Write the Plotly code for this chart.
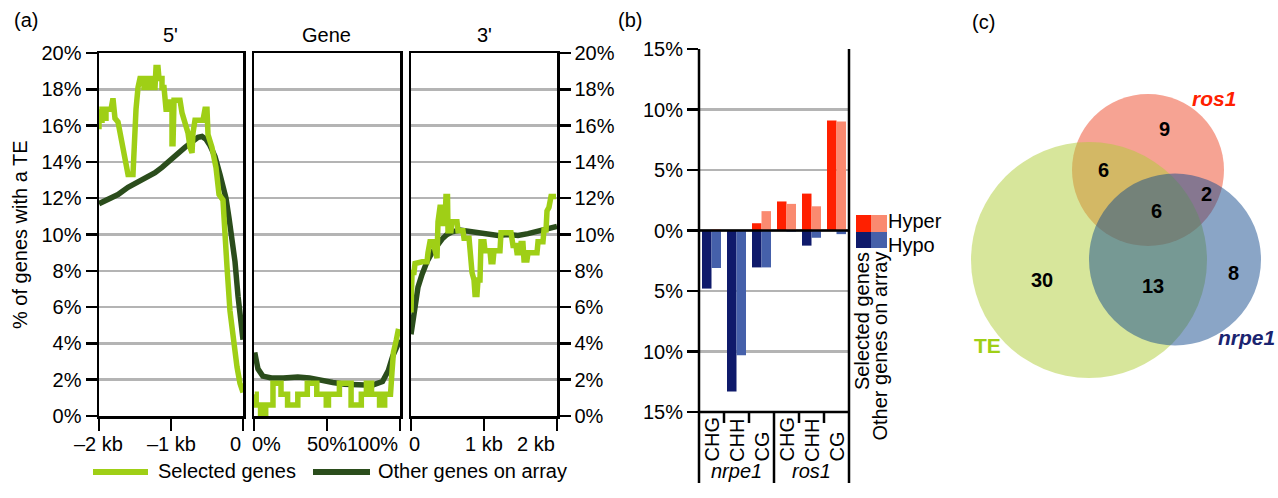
import plotly.graph_objects as go

W, H = 1278, 498
def px(x): return x / W
def py(y): return 1 - y / H

FONT = "Liberation Sans, Arial, sans-serif"
GREEN = "#9fcf16"
DARK = "#2b4d1c"
GRID = "#b4b4b4"

# ---------------- Panel (a) data ----------------
# 5' flank (bp upstream of gene), % of genes with a TE
five_sel_x = [-2000, -2000, -1986, -1958, -1958, -1931, -1931, -1903, -1903, -1875, -1875, -1833, -1806, -1778,
              -1736, -1694, -1653, -1611, -1597, -1528, -1514, -1486, -1458, -1431, -1375, -1375, -1319, -1319,
              -1264, -1264, -1222, -1222, -1208, -1180, -1167, -1125, -1125, -1097, -1069, -1042, -1028, -986,
              -986, -972, -958, -875, -847, -806, -764, -736, -708, -694, -667, -597, -556, -528, -500, -486,
              -431, -375, -333, -278, -250, -222, -181, -139, -111, -83, -42, -14, 0]
five_sel_y = [15.8, 16.9, 16.3, 16.3, 16.9, 16.9, 16.4, 16.4, 16.9, 16.9, 16.9, 16.9, 17.5, 16.4,
              16.2, 15.3, 14.4, 13.7, 13.3, 13.3, 15.0, 16.9, 18.1, 18.6, 18.6, 18.1, 18.1, 18.6,
              18.6, 18.1, 18.1, 18.6, 19.2, 19.2, 18.6, 18.6, 18.1, 18.1, 16.9, 16.9, 17.3, 17.3,
              15.0, 15.0, 17.4, 17.4, 16.7, 16.2, 15.6, 14.8, 14.5, 15.6, 16.3, 16.3, 16.3, 16.9, 16.9, 15.5,
              14.8, 13.7, 12.2, 11.9, 9.5, 8.2, 5.8, 4.2, 3.5, 2.7, 1.8, 1.3, 1.3]
five_oth_x = [-2000, -1875, -1736, -1597, -1500, -1361, -1222, -1125, -1014, -903, -806, -708, -625, -569,
              -514, -458, -389, -319, -236, -194, -153, -111, -69, -28, 0]
five_oth_y = [11.7, 11.9, 12.2, 12.6, 12.8, 13.1, 13.4, 13.7, 14.1, 14.5, 14.8, 15.1, 15.35, 15.4,
              15.25, 14.9, 14.3, 13.3, 12.0, 10.9, 9.7, 8.5, 6.6, 5.0, 4.2]

# Gene body (% of gene length)
gene_sel_x = [0.5, 1.5, 1.5, 4.5, 4.5, 8.0, 8.0, 13.0, 13.0, 18.5, 18.5, 23.0, 23.0, 30.0, 30.0, 36.5,
              36.5, 43.0, 43.0, 49.5, 49.5, 51.0, 51.0, 58.5, 58.5, 66.5, 66.5, 73.5, 73.5, 77.0, 77.0,
              80.5, 80.5, 86.0, 86.0, 89.5, 89.5, 93.5, 94.5, 95.5, 97.5, 99.0]
gene_sel_y = [1.2, 1.2, 0.6, 0.6, 0.0, 0.0, 0.6, 0.6, 1.8, 1.8, 1.2, 1.2, 0.6, 0.6, 1.2, 1.2,
              1.8, 1.8, 1.2, 1.2, 0.6, 0.6, 1.2, 1.2, 1.8, 1.8, 0.6, 0.6, 1.2, 1.2, 1.8,
              1.8, 1.2, 1.2, 0.6, 0.6, 1.2, 1.2, 2.4, 3.5, 4.2, 4.8]
gene_oth_x = [0.5, 2.7, 6, 12, 20, 30, 38, 46, 54, 62, 70, 81, 88, 92, 95, 98, 100]
gene_oth_y = [3.5, 2.6, 2.2, 2.1, 2.1, 2.15, 2.1, 1.95, 1.85, 1.75, 1.7, 1.7, 1.9, 2.5, 3.3, 3.9, 4.2]

# 3' flank (bp downstream of gene)
three_sel_x = [0, 14, 41, 55, 151, 219, 233, 260, 301, 329, 342, 356, 370, 397, 425, 438, 466, 479, 500,
               507, 548, 562, 630, 644, 712, 726, 795, 808, 836, 863, 877, 904, 918, 945, 959, 1000, 1014,
               1082, 1096, 1123, 1137, 1219, 1233, 1370, 1384, 1397, 1438, 1452, 1493, 1507, 1534, 1548,
               1589, 1603, 1726, 1740, 1808, 1822, 1850, 1863, 1890, 1904, 1918, 1986]
three_sel_y = [5.7, 7.9, 7.9, 8.4, 8.5, 8.5, 9.0, 9.6, 9.6, 9.0, 8.7, 8.7, 10.7, 11.5, 11.5, 10.6, 10.6, 12.1, 12.1,
               10.2, 10.2, 10.7, 10.7, 10.2, 10.2, 9.8, 9.8, 9.0, 7.9, 7.5, 6.7, 6.7, 7.5, 7.5, 9.6, 9.6, 9.1,
               9.1, 8.5, 8.5, 9.1, 9.1, 10.1, 10.1, 9.6, 9.4, 9.4, 9.0, 9.0, 9.5, 9.5, 8.6,
               8.6, 9.0, 9.0, 9.6, 9.6, 10.25, 10.25, 11.3, 11.5, 11.7, 12.1, 12.1]
three_oth_x = [0, 27, 55, 96, 151, 219, 288, 356, 425, 493, 562, 671, 781, 918, 1055, 1192, 1329, 1466,
               1603, 1740, 1877, 2000]
three_oth_y = [4.5, 5.4, 6.3, 7.1, 7.8, 8.5, 9.0, 9.4, 9.75, 10.0, 10.15, 10.25, 10.2, 10.1, 10.05, 9.95, 10.0,
               9.95, 10.05, 10.2, 10.35, 10.45]

pct_ticks = list(range(0, 21, 2))
pct_text = [f"{v}%" for v in pct_ticks]

# ---------------- Panel (b) data ----------------
contexts = ["CHG", "CHH", "CG", "CHG", "CHH", "CG"]
mutants = ["nrpe1", "ros1"]
hyper_selected = [0.0, 0.0, 0.6, 2.4, 3.05, 9.1]
hyper_other = [0.1, 0.0, 1.6, 2.2, 2.0, 9.0]
hypo_selected = [-4.8, -13.3, -3.05, 0.0, -1.25, 0.0]
hypo_other = [-3.1, -10.3, -3.05, -0.1, -0.6, -0.3]
b_ticks = [-15, -10, -5, 0, 5, 10, 15]
b_ticktext = ["15%", "10%", "5%", "0%", "5%", "10%", "15%"]

# ---------------- Panel (c) data ----------------
venn_sets = ["TE", "ros1", "nrpe1"]
venn_counts = {"TE": 30, "ros1": 9, "nrpe1": 8, "TE&ros1": 6, "ros1&nrpe1": 2,
               "TE&nrpe1": 13, "all": 6}

fig = go.Figure()

LW = 5.5
# (a) lines
fig.add_trace(go.Scatter(x=five_oth_x, y=five_oth_y, mode="lines", line=dict(color=DARK, width=LW),
                         xaxis="x", yaxis="y", showlegend=False))
fig.add_trace(go.Scatter(x=five_sel_x, y=five_sel_y, mode="lines", line=dict(color=GREEN, width=LW),
                         xaxis="x", yaxis="y", showlegend=False))
fig.add_trace(go.Scatter(x=gene_oth_x, y=gene_oth_y, mode="lines", line=dict(color=DARK, width=LW),
                         xaxis="x2", yaxis="y2", showlegend=False))
fig.add_trace(go.Scatter(x=gene_sel_x, y=gene_sel_y, mode="lines", line=dict(color=GREEN, width=LW),
                         xaxis="x2", yaxis="y2", showlegend=False))
fig.add_trace(go.Scatter(x=three_oth_x, y=three_oth_y, mode="lines", line=dict(color=DARK, width=LW),
                         xaxis="x3", yaxis="y3", showlegend=False))
fig.add_trace(go.Scatter(x=three_sel_x, y=three_sel_y, mode="lines", line=dict(color=GREEN, width=LW),
                         xaxis="x3", yaxis="y3", showlegend=False))

# (b) bars
cat_idx = list(range(len(contexts)))
BW = 0.38
for vals, col, off in [(hyper_selected, "#ff2000", -BW), (hypo_selected, "#0f1a6b", -BW),
                       (hyper_other, "#fa8a70", 0.0), (hypo_other, "#4560aa", 0.0)]:
    fig.add_trace(go.Bar(x=cat_idx, y=vals, width=BW, offset=off, marker=dict(color=col, line=dict(width=0)),
                         xaxis="x4", yaxis="y4", showlegend=False))

# invisible trace for venn axes
fig.add_trace(go.Scatter(x=[None], y=[None], xaxis="x5", yaxis="y5", showlegend=False))

axis_line = dict(showline=True, linecolor="black", linewidth=2.5, mirror=True, zeroline=False, automargin=False)
tickfont = dict(family=FONT, size=20, color="black")

y_dom = [py(416), py(53)]
layout = dict(
    width=W, height=H, autosize=False, margin=dict(l=0, r=0, t=0, b=0, pad=0, autoexpand=False),
    paper_bgcolor="white", plot_bgcolor="rgba(0,0,0,0)",
    font=dict(family=FONT, size=20, color="black"),
    barmode="overlay",
    xaxis=dict(domain=[px(99), px(243)], range=[-2000, 0], anchor="y", ticks="outside", ticklen=12,
               tickwidth=2.5, tickcolor="black", tickvals=[-2000, -1000, 0], showticklabels=False,
               showgrid=False, **axis_line),
    yaxis=dict(domain=y_dom, range=[0, 20], anchor="x", ticks="outside", ticklen=11, tickwidth=2.5,
               tickcolor="black", tickvals=pct_ticks, ticktext=pct_text, tickfont=tickfont,
               showgrid=True, gridcolor=GRID, gridwidth=2.5, **axis_line),
    xaxis2=dict(domain=[px(254), px(400)], range=[0, 100], anchor="y2", ticks="outside", ticklen=12,
                tickwidth=2.5, tickcolor="black", tickvals=[0, 50, 100], showticklabels=False,
                showgrid=False, **axis_line),
    yaxis2=dict(domain=y_dom, range=[0, 20], anchor="x2", ticks="", tickvals=pct_ticks,
                showticklabels=False, showgrid=True, gridcolor=GRID, gridwidth=2.5, **axis_line),
    xaxis3=dict(domain=[px(411), px(557)], range=[0, 2000], anchor="y3", ticks="outside", ticklen=12,
                tickwidth=2.5, tickcolor="black", tickvals=[0, 1000, 2000], showticklabels=False,
                showgrid=False, **axis_line),
    yaxis3=dict(domain=y_dom, range=[0, 20], anchor="x3", side="right", ticks="outside", ticklen=11,
                tickwidth=2.5, tickcolor="black", tickvals=pct_ticks, ticktext=pct_text, tickfont=tickfont,
                showgrid=True, gridcolor=GRID, gridwidth=2.5, **axis_line),
    xaxis4=dict(domain=[px(699), px(849)], range=[-0.5, 5.5], anchor="y4", showticklabels=False,
                ticks="", showgrid=False, zeroline=False, showline=False, automargin=False),
    yaxis4=dict(domain=[py(412), py(49)], range=[-15, 15], anchor="x4", ticks="outside", ticklen=11,
                tickwidth=2.5, tickcolor="black", tickvals=b_ticks, ticktext=b_ticktext, tickfont=tickfont,
                showgrid=True, gridcolor=GRID, gridwidth=2.5, zeroline=False, showline=False, automargin=False),
    xaxis5=dict(domain=[px(940), 1.0], range=[940, 1278], anchor="y5", visible=False, fixedrange=True,
                automargin=False),
    yaxis5=dict(domain=[0, 1], range=[498, 0], anchor="x5", visible=False, fixedrange=True, automargin=False),
)
fig.update_layout(**layout)

shapes = []
ann = []

def text(x, y, s, xanchor="center", yanchor="middle", size=20, color="black", xref="paper", yref="paper",
         angle=0, **kw):
    ann.append(dict(x=x, y=y, text=s, xref=xref, yref=yref, xanchor=xanchor, yanchor=yanchor,
                    showarrow=False, textangle=angle, font=dict(family=FONT, size=size, color=color), **kw))

# panel letters
text(px(26), py(20), "(a)")
text(px(630), py(20), "(b)")
text(px(983), py(22), "(c)")

# (a) panel titles
text(px(171), py(35), "5'")
text(px(327), py(35), "Gene")
text(px(484), py(35), "3'")
# (a) y title
text(px(20), py(235), "% of genes with a TE", angle=-90)

# (a) x tick labels
yl = py(444)
text(-2000, yl, "\u20132 kb", xref="x")
text(-1000, yl, "\u20131 kb", xref="x")
text(0, yl, "0", xref="x", xanchor="right")
text(0, yl, "0%", xref="x2", xanchor="left", xshift=-4)
text(50, yl, "50%", xref="x2")
text(100, yl, "100%", xref="x2", xanchor="right")
text(0, yl, "0", xref="x3", xanchor="left", xshift=-4)
text(1000, yl, "1 kb", xref="x3")
text(2000, yl, "2 kb", xref="x3", xanchor="right")

# (a) legend
shapes.append(dict(type="line", xref="paper", yref="paper", x0=px(93), x1=px(148), y0=py(472), y1=py(472),
                   line=dict(color=GREEN, width=6)))
text(px(156), py(471), "Selected genes", xanchor="left")
shapes.append(dict(type="line", xref="paper", yref="paper", x0=px(313), x1=px(370), y0=py(472), y1=py(472),
                   line=dict(color=DARK, width=6)))
text(px(376), py(471), "Other genes on array", xanchor="left")

# (b) frame lines
def pline(x0, y0, x1, y1, w=2.5):
    shapes.append(dict(type="line", xref="paper", yref="paper", x0=px(x0), y0=py(y0), x1=px(x1), y1=py(y1),
                       line=dict(color="black", width=w)))
shapes.append(dict(type="line", xref="x4", yref="y4", x0=-0.5, x1=5.5, y0=0, y1=0,
                   line=dict(color="black", width=2.5)))
pline(699, 49, 699, 483)
pline(849, 49, 849, 483)
pline(699, 412, 849, 412)
shapes.append(dict(type="line", xref="x4", yref="paper", x0=2.5, x1=2.5, y0=py(412), y1=py(483),
                   line=dict(color="black", width=2.5)))
for b in [0.5, 1.5, 3.5, 4.5]:
    shapes.append(dict(type="line", xref="x4", yref="paper", x0=b, x1=b, y0=py(412), y1=py(423),
                       line=dict(color="black", width=2.5)))
for i, c in enumerate(contexts):
    text(i, py(464), c, xref="x4", yanchor="bottom", angle=-90)
text(1, py(471), "<i>nrpe1</i>", xref="x4")
text(4, py(471), "<i>ros1</i>", xref="x4")

# (b) legend
for (x0, x1, y0, y1, col) in [(856, 871, 215, 232, "#ff2000"), (871, 887, 215, 232, "#fa8a70"),
                              (856, 871, 232, 248, "#0f1a6b"), (871, 887, 232, 248, "#4560aa")]:
    shapes.append(dict(type="rect", xref="paper", yref="paper", x0=px(x0), x1=px(x1), y0=py(y0), y1=py(y1),
                       fillcolor=col, line=dict(width=0)))
text(px(887), py(233), "Hyper", xanchor="left", yanchor="bottom", borderpad=0)
text(px(887), py(233), "Hypo", xanchor="left", yanchor="top", borderpad=0)
text(px(862), py(250), "Selected genes", yanchor="top", angle=-90)
text(px(879), py(250), "Other genes on array", yanchor="top", angle=-90)

# (c) Venn diagram
venn_geom = {"ros1": (1148, 170, 76, "rgb(246,163,147)"),
             "TE": (1089, 260, 118, "rgba(175,205,55,0.5)"),
             "nrpe1": (1175, 259.5, 86, "rgba(21,75,141,0.5)")}
for name in ["ros1", "TE", "nrpe1"]:
    cx, cy, r, col = venn_geom[name]
    shapes.append(dict(type="circle", xref="x5", yref="y5", x0=cx - r, x1=cx + r, y0=cy - r, y1=cy + r,
                       fillcolor=col, line=dict(width=0), layer="above"))
count_pos = {"ros1": (1164, 129), "TE&ros1": (1103, 170), "ros1&nrpe1": (1206, 194), "all": (1156, 211),
             "TE": (1042, 280), "TE&nrpe1": (1153, 286), "nrpe1": (1233, 273)}
for k, v in venn_counts.items():
    x, y = count_pos[k]
    text(x, y, f"<b>{v}</b>", xref="x5", yref="y5")
text(1214, 98, "<b><i>ros1</i></b>", xref="x5", yref="y5", color="#ff2000", size=21)
text(987, 345, "<b>TE</b>", xref="x5", yref="y5", color=GREEN, size=21)
text(1246, 337, "<b><i>nrpe1</i></b>", xref="x5", yref="y5", color="#1a2470", size=21)

fig.update_layout(shapes=shapes, annotations=ann)
fig.write_html("out.html", config={"displayModeBar": False, "staticPlot": True},
               post_script="document.body.style.margin='0';document.body.style.overflow='hidden';")
